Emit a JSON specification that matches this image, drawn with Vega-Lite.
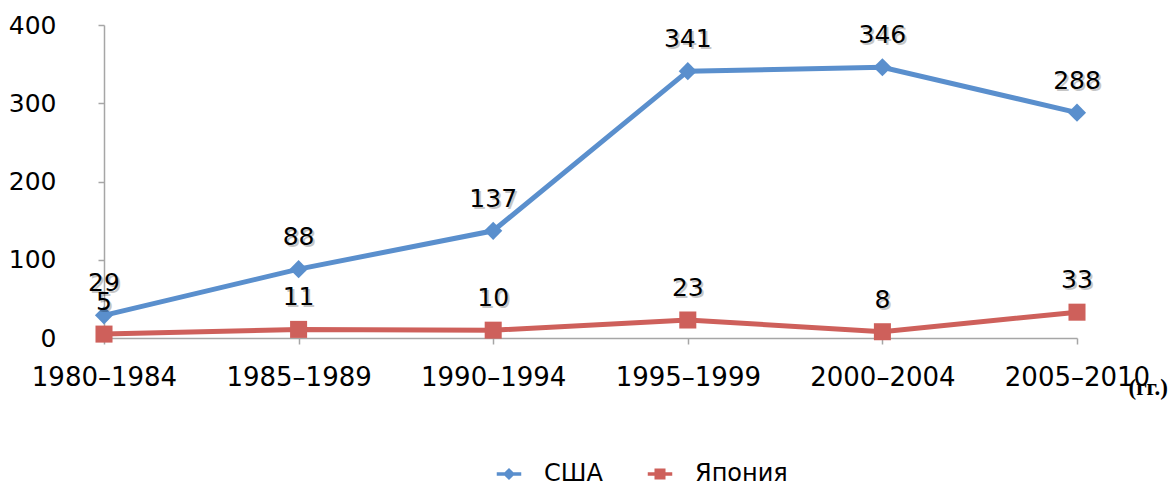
{
  "$schema": "https://vega.github.io/schema/vega-lite/v6.json",
  "width": 973,
  "height": 313,
  "autosize": {"type": "none"},
  "padding": {"left": 104, "top": 25, "right": 97, "bottom": 148},
  "background": "white",
  "config": {
    "view": {"stroke": null},
    "font": "DejaVu Sans"
  },
  "data": {
    "values": [
      {"period": "1980–1984", "country": "США", "value": 29},
      {"period": "1985–1989", "country": "США", "value": 88},
      {"period": "1990–1994", "country": "США", "value": 137},
      {"period": "1995–1999", "country": "США", "value": 341},
      {"period": "2000–2004", "country": "США", "value": 346},
      {"period": "2005–2010", "country": "США", "value": 288},
      {"period": "1980–1984", "country": "Япония", "value": 5},
      {"period": "1985–1989", "country": "Япония", "value": 11},
      {"period": "1990–1994", "country": "Япония", "value": 10},
      {"period": "1995–1999", "country": "Япония", "value": 23},
      {"period": "2000–2004", "country": "Япония", "value": 8},
      {"period": "2005–2010", "country": "Япония", "value": 33}
    ]
  },
  "encoding": {
    "x": {
      "field": "period", "type": "ordinal", "sort": null,
      "scale": {"type": "point", "padding": 0},
      "axis": {
        "title": "(гг.)", "titleFont": "Liberation Serif", "titleFontWeight": "bold", "titleFontSize": 23,
        "titleX": 1024, "titleY": 49, "titleAlign": "left", "titleAnchor": "start", "titleAngle": 0,
        "titleBaseline": "middle", "titleColor": "black",
        "labelAngle": 0, "labelFontSize": 26, "labelColor": "black", "labelPadding": 20,
        "labelBaseline": "top",
        "domainColor": "#a6a6a6", "domainWidth": 1.5, "tickColor": "#a6a6a6", "tickSize": 6, "tickWidth": 1.5,
        "grid": false
      }
    },
    "y": {
      "field": "value", "type": "quantitative",
      "scale": {"domain": [0, 400], "nice": false},
      "axis": {
        "title": null, "values": [0, 100, 200, 300, 400], "labelFontSize": 25, "labelColor": "black",
        "labelPadding": 42, "tickSize": 6, "tickColor": "#a6a6a6", "tickWidth": 1.5,
        "domainColor": "#a6a6a6", "domainWidth": 1.5, "grid": false
      }
    },
    "color": {
      "field": "country", "type": "nominal", "sort": ["США", "Япония"],
      "scale": {"domain": ["США", "Япония"], "range": ["#5A8FCD", "#CE605B"]},
      "legend": null
    }
  },
  "layer": [
    {
      "mark": {"type": "line", "strokeWidth": 5}
    },
    {
      "mark": {"type": "point", "filled": true, "opacity": 1},
      "encoding": {
        "shape": {"field": "country", "type": "nominal", "scale": {"domain": ["США", "Япония"], "range": ["diamond", "square"]}, "legend": null},
        "size": {"field": "country", "type": "nominal", "scale": {"domain": ["США", "Япония"], "range": [330, 290]}, "legend": null}
      }
    },
    {
      "mark": {"type": "point", "filled": true, "opacity": 0},
      "encoding": {
        "color": {
          "field": "country", "type": "nominal",
          "scale": {"domain": ["США", "Япония"], "range": ["#5A8FCD", "#CE605B"]},
          "legend": {
            "orient": "none", "legendX": 393, "legendY": 437, "direction": "horizontal", "title": null,
            "labelFontSize": 24, "labelColor": "black", "labelOffset": 23, "columnPadding": 44,
            "symbolSize": 150, "symbolOpacity": 1, "symbolStrokeWidth": 0
          }
        },
        "shape": {
          "field": "country", "type": "nominal",
          "scale": {"domain": ["США", "Япония"], "range": [
            "M-2,-0.28 L2,-0.28 L2,0.28 L-2,0.28 Z M0,-1 L1,0 L0,1 L-1,0 Z",
            "M-2,-0.3 L2,-0.3 L2,0.3 L-2,0.3 Z M-0.9,-0.9 L0.9,-0.9 L0.9,0.9 L-0.9,0.9 Z"
          ]},
          "legend": {
            "orient": "none", "legendX": 393, "legendY": 437, "direction": "horizontal", "title": null,
            "labelFontSize": 24, "labelColor": "black", "labelOffset": 23, "columnPadding": 44,
            "symbolSize": 150, "symbolOpacity": 1, "symbolStrokeWidth": 0
          }
        }
      }
    },
    {
      "mark": {"type": "text", "fontSize": 25, "dx": 2, "dy": -30, "baseline": "middle", "opacity": 0.22},
      "encoding": {"text": {"field": "value", "type": "quantitative"}, "color": {"value": "#000"}}
    },
    {
      "mark": {"type": "text", "fontSize": 25, "dy": -32, "baseline": "middle"},
      "encoding": {"text": {"field": "value", "type": "quantitative"}, "color": {"value": "#000"}}
    }
  ],
  "resolve": {"scale": {"shape": "independent", "size": "independent", "color": "independent"}}
}
